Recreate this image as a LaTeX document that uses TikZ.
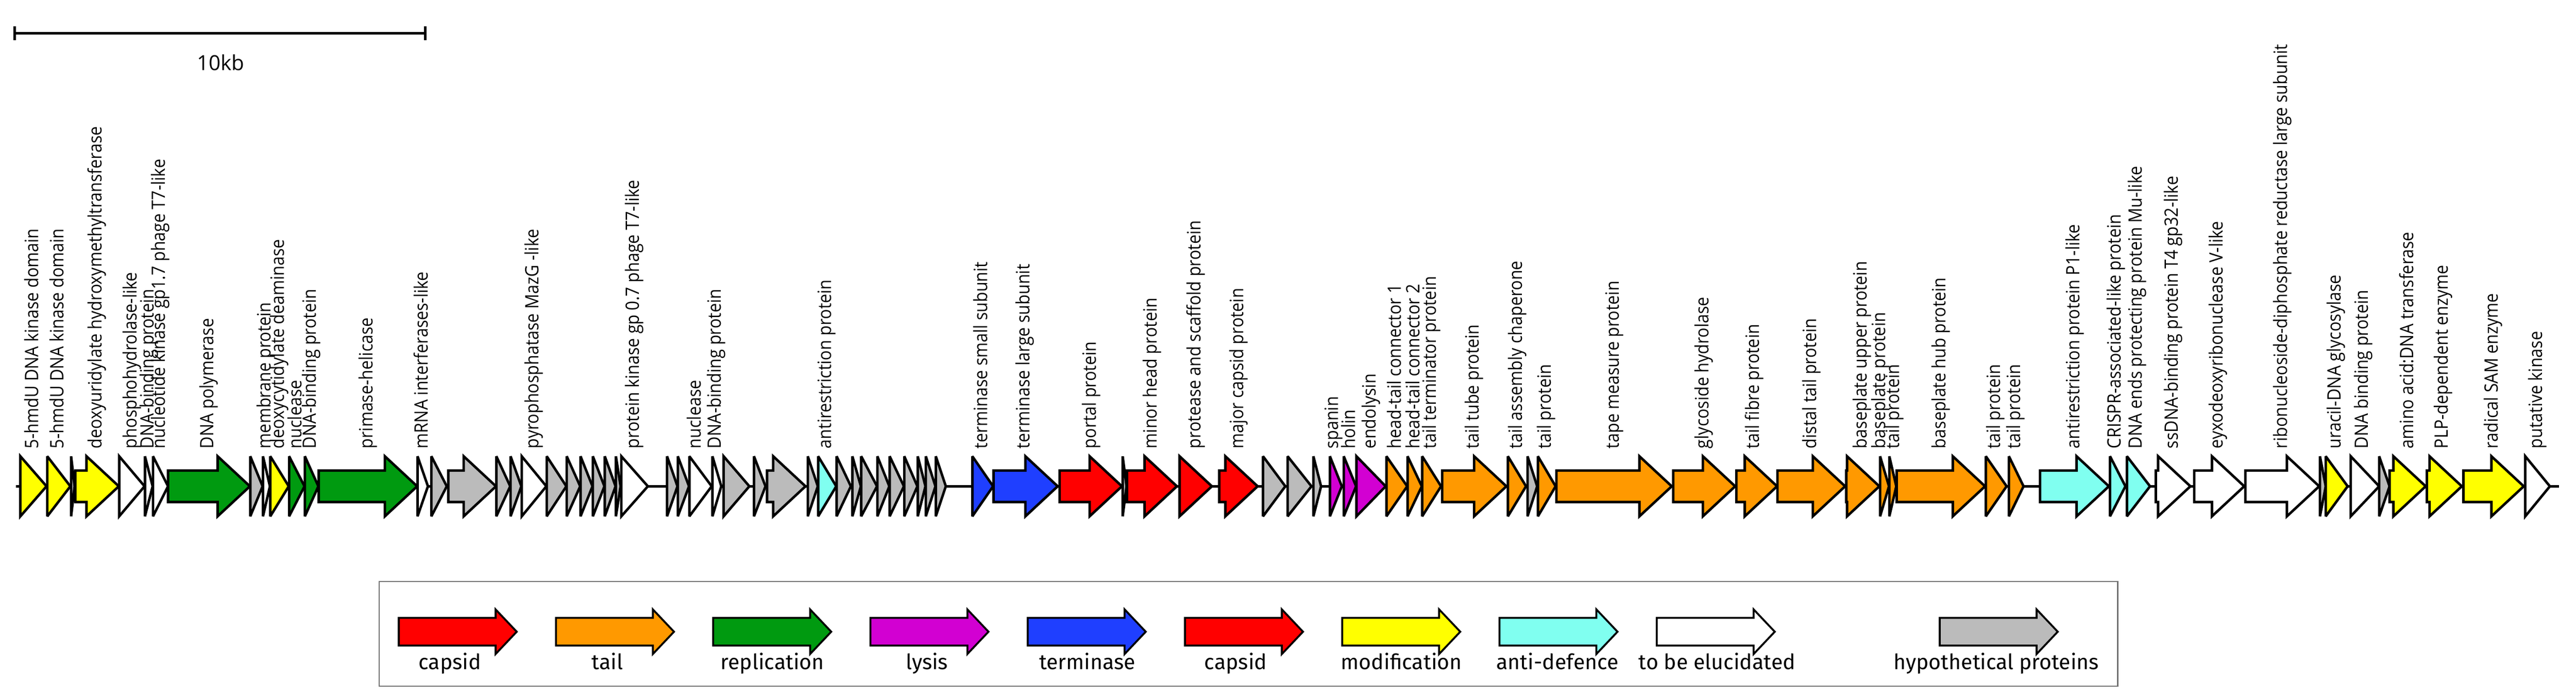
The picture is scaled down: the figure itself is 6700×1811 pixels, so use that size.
\documentclass[tikz,border=0pt]{standalone}
\usepackage{fontspec}
\setmainfont{Open Sans}
\newfontfamily\namefont{Open Sans}[FakeStretch=0.9]
\newfontfamily\keyfont{Fira Sans}
\usepackage{tikz}

\definecolor{capsidred}{HTML}{FF0000}
\definecolor{tailorange}{HTML}{FF9900}
\definecolor{replgreen}{HTML}{009A10}
\definecolor{lysismag}{HTML}{D200D2}
\definecolor{termblue}{HTML}{1F3FFF}
\definecolor{modyellow}{HTML}{FFFF00}
\definecolor{defcyan}{HTML}{80FFF0}
\definecolor{hypgrey}{HTML}{BBBBBB}

% one gene: start, end, fill
\newcommand{\genearrow}[3]{%
  \pgfmathtruncatemacro{\glen}{#2-#1}%
  \ifnum\glen>84
    \filldraw[gene, fill=#3] (#1,1223) -- ({#2-84},1223) -- ({#2-84},1186) -- (#2,1264)
      -- ({#2-84},1342) -- ({#2-84},1305) -- (#1,1305) -- cycle;
  \else
    \filldraw[gene, fill=#3] (#1,1186) -- (#2,1264) -- (#1,1342) -- cycle;
  \fi}
% one legend arrow: start, fill
\newcommand{\keyarrow}[2]{%
  \filldraw[keygene, fill=#2] (#1,1606) -- ({#1+252},1606) -- ({#1+252},1584) -- ({#1+307},1642)
    -- ({#1+252},1700) -- ({#1+252},1678) -- (#1,1678) -- cycle;}

\begin{document}
\begin{tikzpicture}[x=1pt, y=-1pt,
    gene/.style={draw=black, line width=6.5pt, miter limit=3},
    keygene/.style={draw=black, line width=5pt, miter limit=3},
    backbone/.style={line width=6pt},
    scalebar/.style={line width=6.5pt},
    genelabel/.style={rotate=90, anchor=west, inner sep=0pt, text height=36pt, text depth=11pt,
      font=\namefont\fontsize{48}{50}\selectfont},
    keylabel/.style={anchor=base, inner sep=0pt, font=\keyfont\fontsize{55}{60}\selectfont}]
  \useasboundingbox (0,0) rectangle (6700,1811);

  % scale
  \draw[scalebar] (38,69) -- (38,105) (38,87) -- (1106,87) (1106,69) -- (1106,105);
  \node[inner sep=0pt, font=\fontsize{54}{60}\selectfont] (scalelabel) at (574,163) {10kb};

  % genome
  \draw[backbone] (42,1264) -- (6656,1264);
  \foreach \gs/\ge/\gc in {53/121/modyellow, 123/183/modyellow, 185/194/hypgrey, 196/309/modyellow,
      310/376/white, 377/397/white, 398/437/white, 437/650/replgreen, 651/683/hypgrey, 684/702/white,
      703/751/modyellow, 752/792/replgreen, 793/828/replgreen, 829/1085/replgreen, 1086/1113/white,
      1122/1162/hypgrey, 1166/1290/hypgrey, 1291/1327/hypgrey, 1328/1356/hypgrey, 1357/1421/white,
      1422/1473/hypgrey, 1474/1509/hypgrey, 1510/1541/hypgrey, 1542/1572/hypgrey, 1573/1601/hypgrey,
      1602/1614/hypgrey, 1616/1685/white, 1735/1762/hypgrey, 1763/1792/hypgrey, 1793/1851/white,
      1853/1876/white, 1882/1949/hypgrey, 1961/1991/hypgrey, 1995/2095/hypgrey, 2101/2127/hypgrey,
      2128/2175/defcyan, 2176/2213/hypgrey, 2217/2239/hypgrey, 2240/2281/hypgrey, 2282/2313/hypgrey,
      2314/2351/hypgrey, 2352/2386/hypgrey, 2387/2407/hypgrey, 2408/2433/hypgrey, 2434/2460/hypgrey,
      2529/2583/termblue, 2584/2751/termblue, 2756/2918/capsidred, 2920/2930/hypgrey,
      2931/3061/capsidred, 3068/3152/capsidred, 3171/3271/capsidred, 3285/3343/hypgrey,
      3349/3411/hypgrey, 3416/3436/hypgrey, 3459/3490/lysismag, 3495/3527/lysismag, 3528/3604/lysismag,
      3606/3660/tailorange, 3661/3698/tailorange, 3699/3748/tailorange, 3751/3918/tailorange,
      3922/3969/tailorange, 3973/3998/hypgrey, 4000/4046/tailorange, 4048/4348/tailorange,
      4352/4513/tailorange, 4516/4622/tailorange, 4623/4799/tailorange, 4802/4888/tailorange,
      4890/4913/tailorange, 4914/4932/tailorange, 4933/5163/tailorange, 5165/5219/tailorange,
      5225/5263/tailorange, 5306/5485/defcyan, 5488/5528/defcyan, 5532/5592/defcyan, 5607/5697/white,
      5707/5837/white, 5840/6032/white, 6034/6049/hypgrey, 6049/6106/modyellow, 6114/6188/white,
      6188/6215/hypgrey, 6215/6309/modyellow, 6312/6403/modyellow, 6407/6564/modyellow, 6568/6632/white}
    \genearrow{\gs}{\ge}{\gc};

  % gene names
  \foreach \gx/\gtext [count=\i] in {87/5-hmdU DNA kinase domain, 153/5-hmdU DNA kinase domain,
      252/deoxyuridylate hydroxymethyltransferase, 343/phosphohydrolase-like, 387/DNA-binding protein,
      417/nucleotide kinase gp1.7 phage T7-like, 543/DNA polymerase, 692/membrane protein,
      727/deoxycytidylate deaminase, 772/nuclease, 810/DNA-binding protein, 957/primase-helicase,
      1100/mRNA interferases-like, 1389/pyrophosphatase MazG -like, 1650/protein kinase gp 0.7 phage T7-like,
      1810/nuclease, 1863/DNA-binding protein, 2150/antirestriction protein, 2556/terminase small subunit,
      2666/terminase large subunit, 2838/portal protein, 2996/minor head protein,
      3110/protease and scaffold protein, 3221/major capsid protein, 3468/spanin, 3512/holin,
      3566/endolysin, 3632/head-tail connector 1, 3680/head-tail connector 2,
      3723/tail terminator protein, 3834/tail tube protein, 3946/tail assembly chaperone,
      4022/tail protein, 4199/tape measure protein, 4432/glycoside hydrolase, 4563/tail fibre protein,
      4711/distal tail protein, 4843/baseplate upper protein, 4891/baseplate protein, 4928/tail protein,
      5048/baseplate hub protein, 5190/tail protein, 5242/tail protein,
      5397/antirestriction protein P1-like, 5504/CRISPR-associated-like protein,
      5558/DNA ends protecting protein Mu-like, 5652/ssDNA-binding protein T4 gp32-like,
      5769/eyxodeoxyribonuclease V-like, 5936/ribonucleoside-diphosphate reductase large subunit,
      6076/uracil-DNA glycosylase, 6147/DNA binding protein, 6264/amino acid:DNA transferase,
      6355/PLP-dependent enzyme, 6485/radical SAM enzyme, 6600/putative kinase}
    \node[genelabel] (name\i) at (\gx,1166) {\gtext};

  % legend
  \draw[line width=3pt, black!55] (986,1512) rectangle (5508,1784);
  \foreach \ks/\kc [count=\i] in {1037/capsidred, 1446/tailorange, 1855/replgreen, 2264/lysismag,
      2673/termblue, 3082/capsidred, 3491/modyellow, 3900/defcyan, 4309/white, 5045/hypgrey}
    \keyarrow{\ks}{\kc};
  \foreach \kx/\ktext [count=\i] in {1170/capsid, 1580/tail, 2009/replication, 2411/lysis,
      2828/terminase, 3214/capsid, 3645/modification, 4051/anti-defence, 4466/to be elucidated,
      5192/hypothetical proteins}
    \node[keylabel] (key\i) at (\kx,1740) {\ktext};
\end{tikzpicture}
\end{document}
